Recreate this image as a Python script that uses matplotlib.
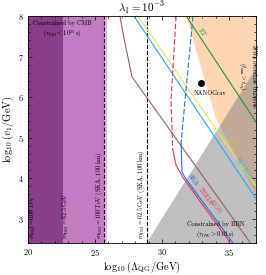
import matplotlib
matplotlib.use("Agg")
import matplotlib.pyplot as plt
from matplotlib.ticker import MultipleLocator

plt.rcParams['font.family'] = 'serif'
plt.rcParams['font.serif'] = ['cmr10', 'DejaVu Serif']
plt.rcParams['mathtext.fontset'] = 'cm'
plt.rcParams['axes.formatter.use_mathtext'] = True

# shaded regions (x edges in log10 Lambda)
cmb_dark = [20.0, 22.6]
cmb_light = [22.6, 25.7]
cmb_pale = [25.7, 25.9]
ska_dm_lines = [25.7, 28.9]

# orange: DWs overclose universe
orange_x = [31.8, 37.0, 37.0, 34.0]
orange_y = [8.0, 8.0, 3.6, 5.5]
# grey: BBN
bbn_x = [28.85, 33.95, 37.0, 37.0]
bbn_y = [2.4, 5.1, 6.7, 2.4]

# GW detector curves
et_x = [31.8, 37.0]
et_y = [8.0, 5.39]
lisa_x = [28.2, 37.0]
lisa_y = [8.0, 3.79]
decigo_x = [27.9, 37.0]
decigo_y = [8.0, 3.5]
aion_x = [26.87, 27.16, 27.39, 27.76, 36.6]
aion_y = [7.98, 7.46, 7.09, 6.50, 2.4]
theia_x = [31.05, 30.67, 30.80, 31.04, 31.57, 35.1]
theia_y = [8.0, 5.93, 4.70, 4.33, 4.01, 2.4]
ska_x = [32.31, 31.72, 31.42, 31.49, 31.72, 35.3]
ska_y = [8.0, 5.93, 4.87, 4.16, 4.01, 2.4]

nanograv = (32.9, 6.35)

fig = plt.figure(figsize=(2.66, 2.75), dpi=100)
ax = fig.add_axes([0.105, 0.116, 0.857, 0.826])

ax.axvspan(*cmb_dark, color='#8a3d8b', lw=0)
ax.axvspan(*cmb_light, color='#c17cc2', lw=0)
ax.axvspan(*cmb_pale, color='#eab2ea', lw=0)

ax.fill(orange_x, orange_y, color='#fdd5b0', lw=0)
ax.fill(bbn_x, bbn_y, color='#808080', alpha=0.5, lw=0)

for xv in ska_dm_lines:
    ax.axvline(xv, color='k', ls='--', lw=0.8)

ax.plot(et_x, et_y, color='#1f9a3c', lw=0.8)
ax.plot(lisa_x, lisa_y, color='#f7e04a', lw=0.8)
ax.plot(decigo_x, decigo_y, color='#1eb0ea', lw=0.8)
ax.plot(aion_x, aion_y, color='#9e5f60', lw=0.8)
ax.plot(theia_x[:3], theia_y[:3], color='#e8325a', lw=0.8, ls=(0, (5, 2)))
ax.plot(theia_x[2:], theia_y[2:], color='#e8325a', lw=0.8)
ax.plot(ska_x[:3], ska_y[:3], color='#2472d2', lw=0.8, ls=(0, (5, 2)))
ax.plot(ska_x[2:], ska_y[2:], color='#2472d2', lw=0.8)

ax.plot(*nanograv, 'o', color='k', ms=4)
ax.text(33.6, 6.1, 'NANOGrav', fontsize=4.5, ha='center', va='center')

fs = 4.5
ax.text(32.95, 7.6, 'ET', color='#1f9a3c', fontsize=fs, rotation=-56, ha='center', va='center')
ax.text(35.2, 4.85, 'LISA', color='#e8b820', fontsize=fs, rotation=-56, ha='center', va='center')
ax.text(36.05, 4.25, 'DECIGO', color='#1eb0ea', fontsize=fs, rotation=-56, ha='center', va='center')
ax.text(34.0, 3.3, 'AION', color='#9e5f60', fontsize=fs, rotation=-54, ha='center', va='center')
ax.text(32.3, 3.96, 'SKA', color='#2472d2', fontsize=fs, rotation=-54, ha='center', va='center')
ax.text(33.25, 3.55, 'THEIA', color='#e8325a', fontsize=fs, rotation=-54, ha='center', va='center')

ax.text(22.55, 7.9, 'Constrained by CMB\n' + r'$(\tau_{\rm DM}<10^{25}\,{\rm s})$',
        fontsize=fs, ha='center', va='top', linespacing=1.3)
ax.text(36.3, 6.5, 'DWs overclose Universe\n' + r'$(t_{\rm ann}>t_{\rm eq})$',
        fontsize=4.3, ha='center', va='center', rotation=-90, linespacing=1.5)
ax.text(34.0, 2.7, 'Constrained by BBN\n' + r'$(\tau_{\rm DW}>0.01\,{\rm s})$',
        fontsize=fs, ha='center', va='center', linespacing=1.3)

ax.text(20.4, 2.5, r'$m_{\rm DM}=100\,{\rm TeV}$', fontsize=fs, rotation=90, ha='center', va='bottom')
ax.text(22.85, 2.5, r'$m_{\rm DM}=62.5\,{\rm GeV}$', fontsize=fs, rotation=90, ha='center', va='bottom')
ax.text(25.3, 2.5, r'$m_{\rm DM}=100\,{\rm TeV}$ (SKA, 100 km)', fontsize=fs, rotation=90, ha='center', va='bottom')
ax.text(28.45, 2.5, r'$m_{\rm DM}=62.5\,{\rm GeV}$ (SKA, 100 km)', fontsize=fs, rotation=90, ha='center', va='bottom')

ax.set_xlim(20, 37)
ax.set_ylim(2.4, 8)
ax.xaxis.set_major_locator(MultipleLocator(5))
ax.xaxis.set_minor_locator(MultipleLocator(1))
ax.yaxis.set_major_locator(MultipleLocator(1))
ax.yaxis.set_minor_locator(MultipleLocator(0.2))
ax.tick_params(which='both', direction='in', top=True, right=True, labelsize=6, width=0.5)
ax.tick_params(which='major', length=3, pad=3)
ax.tick_params(which='minor', length=1.5)
for s in ax.spines.values():
    s.set_linewidth(0.6)

ax.set_xlabel(r'$\log_{10}(\Lambda_{\rm QG}/{\rm GeV})$', fontsize=7.5, labelpad=1)
ax.set_ylabel(r'$\log_{10}(v_1/{\rm GeV})$', fontsize=7.5, labelpad=1)
ax.set_title(r'$\lambda_1=10^{-3}$', fontsize=8, pad=3)

fig.savefig('out.png', dpi=100)
